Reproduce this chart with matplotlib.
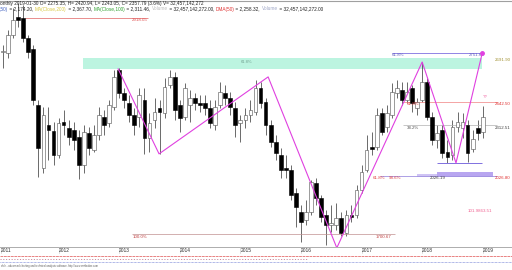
import matplotlib
matplotlib.use("Agg")
import matplotlib.pyplot as plt
from matplotlib.patches import Rectangle

plt.rcParams['font.family'] = ['Liberation Sans', 'DejaVu Sans']

# monthly bars, Feb 2011 .. Jan 2019
opens = [2726, 2721, 2822, 2924, 2918, 2805, 2743, 2428, 2073, 2315, 2281, 2146,
         2332, 2298, 2287, 2247, 2090, 2270, 2174, 2259, 2360, 2326, 2416, 2625,
         2495, 2439, 2371, 2360, 2456, 2242, 2343, 2411, 2383, 2540, 2586, 2428,
         2360, 2428, 2467, 2439, 2439, 2411, 2315, 2428, 2495, 2467, 2411, 2326,
         2343, 2371, 2388, 2524, 2445, 2315, 2219, 2146, 2073, 2061, 1932, 1825,
         1780, 1825, 1988, 1904, 1808, 1751, 1751, 1791, 1705, 1808, 1808, 1949,
         2061, 2191, 2191, 2383, 2304, 2371, 2495, 2512, 2456, 2524, 2411, 2456,
         2557, 2360, 2230, 2287, 2163, 2146, 2304, 2298, 2315, 2180, 2298, 2275.35]
highs = [2766, 2850, 2974, 3002, 2991, 2822, 2766, 2456, 2416, 2416, 2332, 2355,
         2400, 2343, 2332, 2287, 2315, 2304, 2315, 2416, 2400, 2456, 2625, 2636,
         2524, 2484, 2411, 2524, 2524, 2383, 2467, 2456, 2580, 2625, 2614, 2456,
         2552, 2512, 2495, 2484, 2484, 2456, 2456, 2557, 2540, 2501, 2445, 2371,
         2411, 2456, 2569, 2557, 2467, 2343, 2259, 2185, 2146, 2090, 1960, 1864,
         1892, 2005, 2016, 1920, 1836, 1864, 1875, 1825, 1836, 1864, 1977, 2090,
         2259, 2276, 2411, 2411, 2428, 2552, 2569, 2557, 2557, 2540, 2467, 2670,
         2580, 2388, 2315, 2315, 2230, 2343, 2388, 2383, 2343, 2287, 2343, 2420.94]
lows = [2636, 2693, 2805, 2868, 2783, 2693, 2428, 2022, 2045, 2118, 2090, 2129,
        2259, 2202, 2174, 2011, 2045, 2146, 2163, 2230, 2259, 2304, 2400, 2467,
        2411, 2332, 2259, 2304, 2152, 2163, 2298, 2152, 2355, 2524, 2343, 2276,
        2343, 2332, 2400, 2388, 2371, 2298, 2287, 2411, 2428, 2371, 2247, 2219,
        2298, 2332, 2371, 2411, 2259, 2191, 2118, 2016, 2016, 1892, 1740, 1655,
        1751, 1808, 1864, 1768, 1639, 1711, 1722, 1689, 1689, 1768, 1791, 1932,
        2050, 2146, 2174, 2259, 2276, 2355, 2467, 2428, 2439, 2388, 2371, 2445,
        2343, 2202, 2185, 2129, 2101, 2118, 2276, 2242, 2107, 2163, 2230, 2243.05]
closes = [2730, 2822, 2907, 2905, 2805, 2726, 2456, 2185, 2371, 2287, 2146, 2326,
          2315, 2247, 2230, 2090, 2276, 2185, 2259, 2371, 2315, 2428, 2586, 2495,
          2456, 2371, 2315, 2484, 2242, 2326, 2388, 2388, 2529, 2586, 2400, 2355,
          2524, 2467, 2439, 2428, 2411, 2326, 2416, 2501, 2467, 2416, 2315, 2343,
          2371, 2400, 2524, 2439, 2315, 2219, 2157, 2061, 2061, 1920, 1853, 1768,
          1825, 1994, 1904, 1797, 1751, 1763, 1791, 1705, 1808, 1797, 1949, 2050,
          2174, 2180, 2371, 2276, 2383, 2501, 2524, 2456, 2501, 2439, 2445, 2557,
          2360, 2230, 2270, 2157, 2135, 2304, 2332, 2332, 2157, 2236, 2270, 2357.79]

years = ["2011", "2012", "2013", "2014", "2015", "2016", "2017", "2018", "2019"]
jan_idx = [-0.4, 11, 23, 35, 47, 59, 71, 83, 95]

# hand-drawn swing line (bar index, price)
swing_x = [22.8, 30.9, 52.5, 66.1, 83.0, 89.7, 94.9]
swing_y = [2631, 2152, 2586, 1622, 2670, 2101, 2721]

high_2011 = 2918.05
low_2016 = 1700.67
zone_top, zone_bot = 2691.90, 2631
fib_hi, fib_mid, fib_lo = 2442.50, 2312.51, 2030
target = 2721
support = 2101

fig = plt.figure(figsize=(5.12, 2.70), dpi=100)
ax = fig.add_axes([0, 23 / 270, 1, 247 / 270])
ax.set_xlim(-0.594, 100.79)
ax.set_ylim(1627, 3019.5)
ax.axis('off')

# zone
ax.add_patch(Rectangle((15.8, zone_bot), 94.9 - 15.8, zone_top - zone_bot,
                       facecolor='#bcf4e0', edgecolor='none', zorder=0))
ax.text(47, 2672, "61.8%", fontsize=3, color='#70a090', va='center')

# candles
for i in range(len(opens)):
    o, h, l, c = opens[i], highs[i], lows[i], closes[i]
    ax.vlines(i, l, h, color='#303030', lw=0.5, zorder=2)
    up = c >= o
    ax.add_patch(Rectangle((i - 0.37, min(o, c)), 0.74, max(abs(c - o), 3),
                           facecolor='white' if up else 'black',
                           edgecolor='#505050' if up else 'black', lw=0.4, zorder=3))

# fib lines and labels
ax.hlines(high_2011, 4.4, 28.7, color='#e06060', lw=0.5)
ax.text(25.5, high_2011 - 14, "2918.05", fontsize=3.2, color='#e05050', va='center')
ax.hlines(low_2016, 25.5, 77.6, color='#c09090', lw=0.5)
ax.text(25.7, low_2016 - 16, "100.0%", fontsize=3.2, color='#c04040', va='center')
ax.text(73.7, low_2016 - 16, "1700.67", fontsize=3.2, color='#c04040', va='center')

ax.hlines(fib_hi, 79.2, 97.8, color='#f08080', lw=0.5)
ax.text(80, fib_hi - 12, "61.8%", fontsize=3.2, color='#e04040', va='center')
ax.hlines(fib_mid, 79.2, 97.8, color='#b0b0b0', lw=0.5)
ax.text(80, fib_mid - 12, "38.2%", fontsize=3.2, color='#505050', va='center')

ax.add_patch(Rectangle((82, 2023), 15, 17, facecolor='#cfc4f4', edgecolor='none', zorder=1))
ax.add_patch(Rectangle((86, 2023), 11, 28, facecolor='#b8a6f0', edgecolor='none', zorder=1))
ax.hlines(fib_lo, 74.6, 97.8, color='#a090e0', lw=0.6)
ax.text(73.2, fib_lo - 14, "61.8%", fontsize=3.2, color='#e04040', va='center')
ax.text(76.3, fib_lo - 14, "98.6%", fontsize=3.2, color='#e04040', va='center')
ax.text(84.6, fib_lo - 14, "2026.19", fontsize=3.2, color='#404040', va='center')
ax.hlines(support, 86, 94.9, color='#8070e0', lw=0.7)

ax.hlines(target, 77, 94.9, color='#8070e0', lw=0.6)
ax.text(77, target - 12, "61.8%", fontsize=3.2, color='#6060c0', va='center')
ax.text(92.2, target - 12, "2751.60", fontsize=3.2, color='#6060c0', va='center')

ax.plot(swing_x, swing_y, color='#e040e0', lw=0.8, zorder=4)
ax.plot(swing_x[-1], swing_y[-1], 'o', ms=2.5, color='#e040e0', zorder=5)
ax.text(95, 2470, "??", fontsize=3.2, color='#f060a0', va='center')
ax.text(92, 1830, "101.9863.51", fontsize=3.2, color='#f06090', va='center')

# right column
ax.text(97.4, zone_top - 10, "2691.90", fontsize=3.2, color='#a09030', va='center')
ax.text(97.4, fib_hi - 12, "2442.50", fontsize=3.2, color='#e03030', va='center')
ax.text(97.4, fib_mid - 12, "2312.51", fontsize=3.2, color='#404040', va='center')
ax.text(97.4, 2016, "2026.80", fontsize=3.2, color='#e03030', va='center')

# axis line + years
fig.add_artist(plt.Line2D([0, 1], [23 / 270, 23 / 270], color='#a0a0a0', lw=0.6))
fig.add_artist(plt.Line2D([0, 1], [1 - 0.5 / 270, 1 - 0.5 / 270], color='#a0a0a0', lw=0.8))
x0, x1 = ax.get_xlim()
for y, j in zip(years, jan_idx):
    fx = (j - x0) / (x1 - x0)
    fig.text(fx, 19 / 270, y, fontsize=3.5, color='#303030', va='center', ha='left')
    fig.add_artist(plt.Line2D([fx, fx], [17 / 270, 23 / 270], color='#c0c0c0', lw=0.4))

# indicator strip
fig.add_artist(plt.Line2D([0, 1], [14 / 270, 14 / 270], color='#e05050', lw=0.5, ls=(0, (4, 1))))
fig.add_artist(plt.Line2D([0, 0.6], [11.5 / 270, 11.5 / 270], color='#a03050', lw=0.4, ls=(0, (2, 3))))
fig.add_artist(plt.Line2D([0, 1], [8.5 / 270, 8.5 / 270], color='#6070d0', lw=0.5, ls=(0, (1, 1))))
fig.text(0.002, 3.5 / 270, "able - advanced charting and technical analysis software. http://www.amibroker.com",
         fontsize=1.9, color='#606060', va='center')

# header
fig.canvas.draw()
r = fig.canvas.get_renderer()
def chain(parts, y, size):
    x = 0.0
    for s, c in parts:
        t = fig.text(x, y, s, color=c, fontsize=size, va='center', ha='left')
        x += t.get_window_extent(renderer=r).width / fig.bbox.width

chain([("onthly 2019-01-30 O= 2275.35, H= 2420.94, L= 2243.05, C= 2357.79 (3.6%) V= 32,457,142,272", '#202020')],
      1 - 3 / 270, 3.4)
chain([(",50)", '#4060c0'), (" = 2,174.20, ", '#202020'), ("MA(Close,200)", '#d8c840'),
       (" = 2,367.70, ", '#202020'), ("MA(Close,100)", '#30a030'), (" = 2,311.46, ", '#202020'),
       ("Volume", '#c0c0c0'), (" = 32,457,142,272.00, ", '#202020'), ("DMA(50)", '#e03030'),
       (" = 2,258.32, ", '#202020'), ("Volume", '#a0a8c8'), (" = 32,457,142,272.00", '#202020')],
      1 - 9 / 270, 3.4)

fig.savefig("out.png", dpi=100)
